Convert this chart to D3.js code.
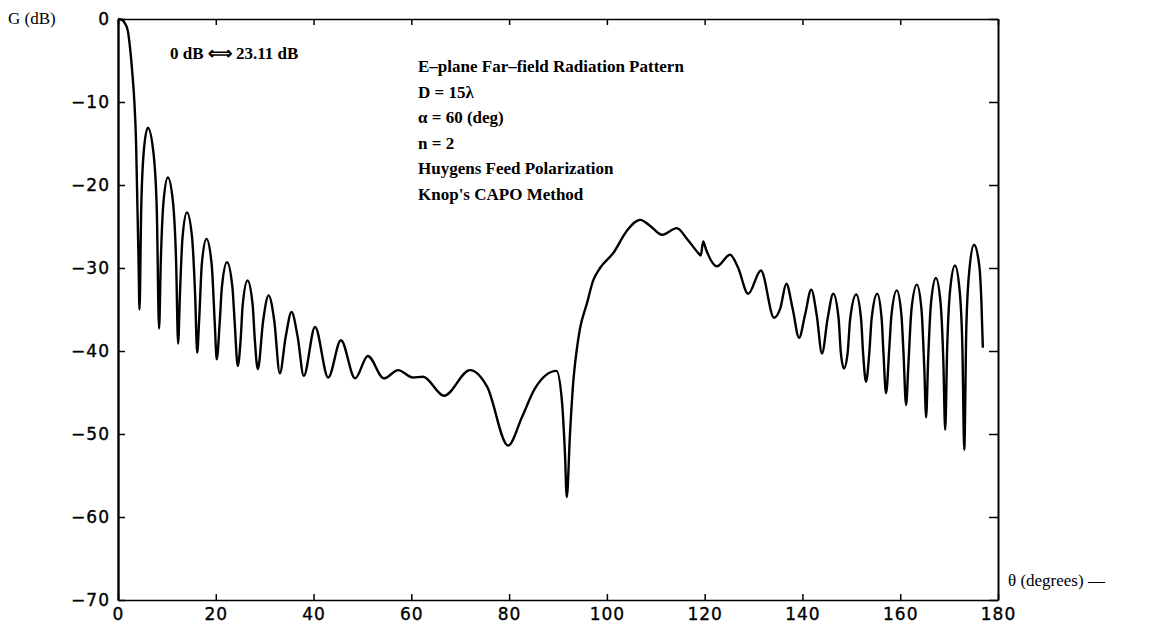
<!DOCTYPE html>
<html>
<head>
<meta charset="utf-8">
<script src="https://cdn.jsdelivr.net/npm/d3@7"></script>
<style>
  body { margin: 0; background: #fff; }
  .tick text { font-family: "DejaVu Sans", sans-serif; font-size: 17px; fill: #000; stroke: #000; stroke-width: 0.35px; letter-spacing: 1px; }
  .note { font-family: "Liberation Serif", serif; font-size: 17px; font-weight: bold; fill: #000; }
  .lab { font-family: "Liberation Serif", serif; font-size: 17px; fill: #000; }
</style>
</head>
<body>
<svg width="1153" height="636"></svg>
<script>
// E-plane far-field pattern: [theta (deg), G (dB)]
var mainLobe = [
  [0, 0], [0.8, -0.1], [1.5, -0.6], [2.0, -1.4], [2.45, -3.4], [2.9, -6.3],
  [3.35, -10], [3.7, -15], [3.95, -22], [4.2, -29], [4.4, -35]
];

var nearSidelobes = [
  [4.74, -23.1], [5.25, -16.1], [6.1, -13.1], [7.25, -16.1], [7.94, -23.1], [8.4, -37.3],
  [8.76, -29.1], [9.3, -22.1], [10.2, -19.1], [11.25, -22.1], [11.88, -29.1], [12.3, -39.1],
  [12.66, -33.3], [13.2, -26.3], [14.1, -23.3], [15.15, -26.3], [15.78, -33.3], [16.2, -40.2],
  [16.58, -36.5], [17.15, -29.5], [18.1, -26.5], [19.15, -29.5], [19.78, -36.5], [20.2, -41.0],
  [20.83, -36.3], [21.25, -32.3], [22.3, -29.3], [23.4, -32.3], [23.84, -36.3], [24.5, -41.8],
  [25.1, -38.5], [25.5, -34.5], [26.5, -31.5], [27.55, -34.5], [27.97, -38.5], [28.6, -42.2],
  [29.7, -36.3], [30.8, -33.3], [31.95, -36.3], [33.1, -42.7],
  [34.3, -38.3], [35.5, -35.3], [36.75, -38.3], [38.0, -43.0],
  [40.3, -37.1], [43.0, -43.2],
  [45.6, -38.7], [48.5, -43.3],
  [51.1, -40.6], [54.4, -43.3],
  [57.3, -42.3], [60.3, -43.2]
];

var midRegion = [
  [62.4, -43.1], [66.7, -45.4], [72.0, -42.3], [75.5, -44.3], [79.8, -51.4],
  [82.6, -48.0], [85.3, -44.5], [89.7, -42.4], [90.8, -46.0], [91.4, -52.0], [91.8, -57.6],
  [92.45, -50.0], [93.1, -43.9], [93.8, -40.0], [94.5, -37.3], [95.9, -34.3], [97.2, -31.5],
  [98.6, -30.0], [101.3, -28.2], [104.1, -25.5], [106.8, -24.2], [108.8, -24.9], [111.3, -26.0],
  [114.3, -25.2], [116.4, -26.5], [118.7, -28.2], [119.2, -28.5], [119.7, -26.8], [120.3, -27.8],
  [122.5, -29.8], [125.2, -28.4], [126.8, -29.9], [128.9, -33.1]
];

var farSidelobes = [
  [131.5, -30.3], [134.2, -36.0],
  [135.45, -34.9], [136.7, -31.9], [138.0, -34.9], [139.3, -38.4],
  [140.55, -35.6], [141.8, -32.6], [142.9, -35.6], [144.0, -40.3],
  [145.15, -36.1], [146.3, -33.1], [147.4, -36.1], [147.84, -40.1], [148.5, -42.1],
  [149.25, -40.2], [149.75, -36.2], [151.0, -33.2], [152.0, -36.2], [152.4, -40.2], [153.0, -43.7],
  [153.69, -40.1], [154.15, -36.1], [155.3, -33.1], [156.2, -36.1], [156.56, -40.1], [157.1, -45.1],
  [157.76, -39.7], [158.2, -35.7], [159.3, -32.7], [160.25, -35.7], [160.63, -39.7], [161.2, -46.5],
  [161.64, -42.0], [162.3, -35.0], [163.4, -32.0], [164.35, -35.0], [164.92, -42.0], [165.3, -48.0],
  [165.7, -41.2], [166.3, -34.2], [167.3, -31.2], [168.25, -34.2], [168.82, -41.2], [169.2, -49.5],
  [169.6, -39.7], [170.2, -32.7], [171.2, -29.7], [172.15, -32.7], [172.72, -39.7], [173.1, -51.9],
  [173.52, -37.2], [174.15, -30.2], [175.1, -27.2], [176.0, -29.0], [176.3, -30.5], [176.6, -34.0], [176.9, -39.6]
];

var xTicks = [0, 20, 40, 60, 80, 100, 120, 140, 160, 180];
var yTicks = [0, -10, -20, -30, -40, -50, -60, -70];

var notes = [
  "E\u2013plane Far\u2013field Radiation Pattern",
  "D = 15\u03bb",
  "\u03b1 = 60 (deg)",
  "n = 2",
  "Huygens Feed Polarization",
  "Knop's CAPO Method"
];

var pattern = mainLobe.concat(nearSidelobes, midRegion, farSidelobes);

var svg = d3.select("svg");

var x = d3.scaleLinear().domain([0, 180]).range([118, 998]);
var y = d3.scaleLinear().domain([-70, 0]).range([600, 19]);

// frame + inward ticks
var bottom = svg.append("g")
    .attr("transform", "translate(0,600)")
    .call(d3.axisBottom(x).tickValues(xTicks).tickSizeInner(-6).tickSizeOuter(0).tickPadding(8));

var left = svg.append("g")
    .attr("transform", "translate(118,0)")
    .call(d3.axisLeft(y).tickValues(yTicks).tickSizeInner(-7).tickSizeOuter(0).tickPadding(8));

var top = svg.append("g")
    .attr("transform", "translate(0,19)")
    .call(d3.axisTop(x).tickValues(xTicks).tickSizeInner(-6).tickSizeOuter(0).tickFormat(""));

var right = svg.append("g")
    .attr("transform", "translate(998,0)")
    .call(d3.axisRight(y).tickValues(yTicks).tickSizeInner(-9).tickSizeOuter(0).tickFormat(""));

svg.selectAll(".domain").attr("stroke", "#000").attr("stroke-width", 1.5);
left.select(".domain").attr("stroke-width", 2.4);
right.select(".domain").attr("stroke-width", 2);
svg.selectAll(".tick line").attr("stroke", "#000").attr("stroke-width", 1.5);

// the pattern itself
var line = d3.line()
    .x(function(d) { return x(d[0]); })
    .y(function(d) { return y(d[1]); })
    .curve(d3.curveMonotoneX);

svg.append("path")
    .datum(pattern)
    .attr("fill", "none")
    .attr("stroke", "#000")
    .attr("stroke-width", 2.4)
    .attr("stroke-linejoin", "round")
    .attr("d", line);

// labels
svg.append("text").attr("class", "lab").attr("x", 8).attr("y", 24).text("G (dB)");
svg.append("text").attr("class", "lab").attr("x", 1008).attr("y", 586).text("\u03b8 (degrees) \u2014");

svg.append("text").attr("class", "note").attr("x", 170).attr("y", 59)
    .text("0 dB \u27fa 23.11 dB");

svg.selectAll("text.info")
    .data(notes)
    .enter().append("text")
    .attr("class", "note info")
    .attr("x", 418)
    .attr("y", function(d, i) { return 72 + i * 25.6; })
    .text(function(d) { return d; });
</script>
</body>
</html>
